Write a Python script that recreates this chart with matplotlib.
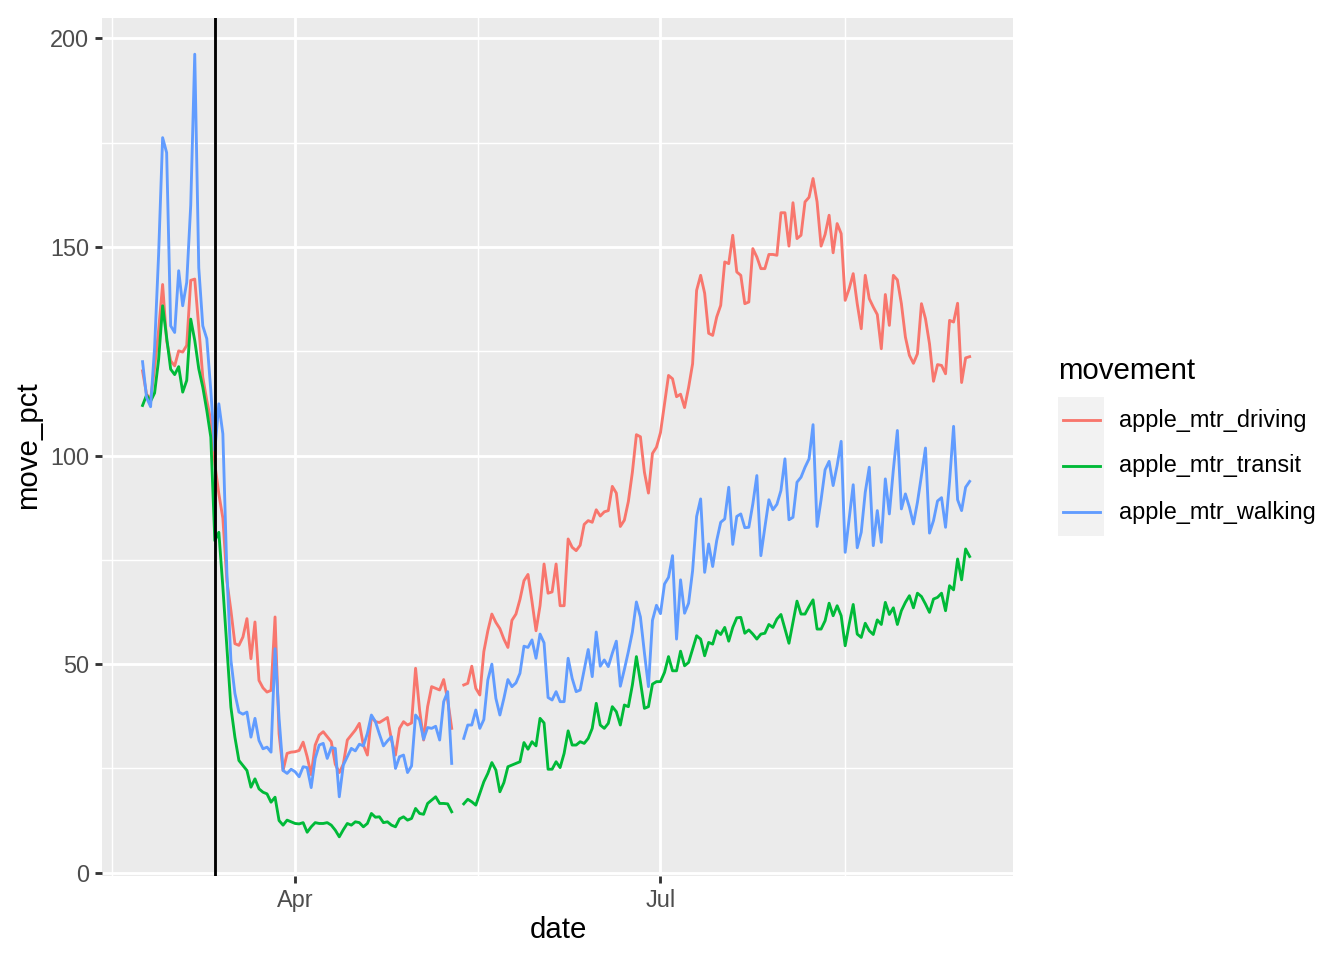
import numpy as np
import pandas as pd
import matplotlib
matplotlib.use("Agg")
import matplotlib.pyplot as plt
import matplotlib.dates as mdates
from matplotlib.lines import Line2D
from matplotlib.patches import Rectangle

plt.rcParams["font.family"] = ["Liberation Sans", "DejaVu Sans"]

# daily Apple mobility index, 2020-02-23 .. 2020-09-16 (May 11-12 missing)
dates = pd.date_range("2020-02-23", "2020-09-16", freq="D")
nan = np.nan

driving = [
    120.3, 114.7, 113.5, 121, 130, 141, 127.5, 122.7, 121.5, 125.1,
    124.8, 126.4, 142, 142.3, 130.8, 118.8, 113.2, 108.4, 98, 90.8,
    85, 70, 62.9, 54.9, 54.5, 56.5, 60.9, 51.3, 60.1, 46.1,
    44.3, 43.3, 43.7, 61.3, 33.3, 24.5, 28.6, 28.9, 29.0, 29.3,
    31.3, 27.8, 23.5, 30.6, 33, 33.8, 32.6, 31.4, 26, 24,
    26, 31.8, 33, 34.2, 35.8, 30.6, 28.2, 37.4, 36.2, 36,
    36.6, 37.2, 31.8, 28.2, 34.6, 36.2, 35.4, 35.9, 49, 39,
    31.8, 39.8, 44.6, 44.2, 43.8, 46.3, 41.4, 34.6, nan, nan,
    45, 45.4, 49.5, 44.2, 42.6, 53, 58, 62, 60, 58.5,
    56, 54, 60.5, 62, 65.5, 70, 71.5, 65, 58, 64,
    74, 67, 67.3, 74, 64, 64, 80, 78, 77.2, 78.5,
    83.5, 84.4, 84, 87, 85.5, 86.5, 86.8, 92.6, 91, 83,
    84.5, 89, 96, 105, 104.5, 96, 91, 100.5, 102, 105.5,
    112.3, 119.2, 118.4, 114.1, 114.7, 111.5, 116.3, 122, 139.6, 143.2,
    138.9, 129.3, 128.8, 133.2, 136, 146.4, 146, 152.8, 144, 143.2,
    136.4, 136.8, 149.6, 147.6, 144.8, 144.8, 148.2, 148.2, 148, 158.2,
    158.2, 150.2, 160.6, 152, 152.8, 160.8, 161.9, 166.4, 160.8, 150.2,
    153, 157.6, 148.6, 155.6, 153.2, 137.2, 140, 143.6, 136.4, 130.4,
    143.2, 137.6, 135.6, 133.8, 125.6, 138.6, 131.2, 143.2, 142.1, 136.4,
    128.4, 124, 122.1, 124.4, 136.4, 132.8, 126.8, 117.8, 121.8, 121.6,
    119.6, 132.4, 132, 136.5, 117.5, 123.4, 123.7,
]

transit = [
    112, 114.5, 113, 115, 123, 135.9, 128.3, 120.7, 119.4, 121.3,
    115.2, 118, 132.7, 127.6, 120.8, 116.4, 110.8, 104.4, 79.6, 81.6,
    68.5, 54, 39.7, 32.5, 26.9, 25.7, 24.5, 20.5, 22.5, 20.1,
    19.3, 18.9, 16.9, 18.1, 12.5, 11.4, 12.6, 12.2, 11.8, 11.7,
    12, 9.7, 11, 12, 11.8, 11.8, 12, 11.4, 10.2, 8.6,
    10.3, 11.8, 11.4, 12.2, 12, 11, 11.8, 14.2, 13.3, 13.4,
    12, 12.2, 11.4, 11, 12.9, 13.4, 12.6, 13, 15.4, 14.2,
    14, 16.6, 17.4, 18.2, 16.6, 16.6, 16.5, 14.6, nan, nan,
    16.5, 17.6, 17, 16.2, 19, 21.8, 23.8, 26.4, 24.6, 19.4,
    21.6, 25.4, 25.8, 26.2, 26.6, 31.2, 29.6, 31.4, 30.4, 37,
    35.9, 24.8, 24.8, 26.6, 25.2, 28.6, 34, 30.6, 30.6, 31.4,
    31, 32.2, 34.6, 40.6, 35.4, 34.6, 35.8, 39.8, 38.6, 35.4,
    40.2, 39.8, 45, 51.8, 45.8, 39.4, 39.8, 45.2, 45.8, 45.8,
    48, 51.8, 48.4, 48.4, 53.1, 49.6, 50.4, 53.6, 56.8, 56,
    52, 55.2, 54.8, 58, 57.1, 58.8, 55.5, 58.8, 61.1, 61.2,
    57.4, 58.2, 57.2, 56, 57.2, 57.4, 59.5, 58.8, 60.8, 61.9,
    58.4, 55, 60, 65.1, 62, 62, 63.8, 65.4, 58.4, 58.4,
    60.4, 64.6, 61.6, 64, 61.6, 54.4, 59.6, 64.3, 57.2, 56.4,
    59.8, 58, 57.1, 60.6, 59.5, 64.8, 61.9, 63.5, 59.5, 62.8,
    64.8, 66.4, 63.5, 67, 66.2, 64.4, 62.4, 65.6, 66, 67,
    62.8, 68.8, 67.8, 75.2, 70.2, 77.6, 75.8,
]

walking = [
    122.5, 113.9, 111.7, 125.9, 148.2, 176.2, 172.6, 131.1, 129.5, 144.3,
    135.9, 141.5, 160, 196.2, 145, 131.1, 128, 115.6, 101.2, 112.4,
    105.2, 72, 51, 43, 38.5, 38, 38.5, 32.5, 37, 31.7,
    29.7, 30.1, 28.9, 53.7, 37, 24.5, 23.8, 24.8, 24.2, 23,
    25.4, 25.2, 20.4, 27.4, 30.6, 31, 27.4, 30, 29.8, 18.2,
    25.8, 27.8, 29.8, 29.2, 30.8, 30.4, 33.4, 37.8, 36.2, 33.2,
    30.4, 31.6, 32.6, 25, 27.8, 28.2, 24, 25.6, 37.8, 36.6,
    32, 34.8, 34.6, 35.1, 31.8, 41, 43.4, 26.2, nan, nan,
    32.2, 35.4, 35.4, 39, 34.6, 36.7, 46.2, 50, 41.8, 37.8,
    41.8, 46.3, 44.6, 45.5, 47.8, 54.3, 54, 55.8, 51.4, 57.2,
    55.1, 42, 41.4, 43.4, 41, 41, 51.4, 46.6, 43.4, 43.8,
    48.6, 53.5, 47, 57.7, 49.5, 51, 49.4, 52.6, 55.5, 44.7,
    48.7, 53, 57.7, 64.9, 61.3, 52.7, 44.6, 60.5, 64.1, 62.1,
    69.2, 70.8, 76, 56, 70.2, 62.2, 64.6, 72.4, 85.4, 89.6,
    72, 78.8, 73.4, 79.6, 84, 84.8, 92.4, 78.7, 85.4, 86,
    82.7, 82.8, 88.4, 95.2, 76, 82.8, 89.4, 87, 88.3, 91.6,
    99.2, 84.6, 85.2, 93.6, 94.8, 97.2, 99.2, 107.4, 83, 89.4,
    96.6, 98.6, 92.8, 97.6, 103.4, 76.8, 84.8, 93, 77.9, 81.6,
    91.2, 97.2, 78.4, 86.8, 79.2, 94.4, 86, 96.6, 106, 87.2,
    90.8, 87.6, 83.6, 88.8, 95.2, 101.8, 81.4, 84.4, 89.1, 89.9,
    82.8, 93.8, 107, 89.4, 86.8, 92.4, 93.8,
]

movements = ["apple_mtr_driving", "apple_mtr_transit", "apple_mtr_walking"]
colors = ["#F8766D", "#00BA38", "#619CFF"]
series = [driving, transit, walking]
vline_date = pd.Timestamp("2020-03-12")

W, H = 1344, 960
fig = plt.figure(figsize=(7, 5), dpi=192)
ax = fig.add_axes([102 / W, 1 - 875.5 / H, 911 / W, 858 / H])
ax.set_facecolor("#EBEBEB")
for s in ax.spines.values():
    s.set_visible(False)

for name, col, vals in zip(movements, colors, series):
    ax.plot(dates, vals, color=col, lw=1.07, label=name, zorder=3)
ax.axvline(vline_date, color="black", lw=1.07, zorder=4)

start = dates[0]
ax.set_xlim(start - pd.Timedelta(days=10.1), start + pd.Timedelta(days=216.8))
ax.set_ylim(-0.67, 205.0)

ax.xaxis.set_major_locator(mdates.MonthLocator(bymonth=[1, 4, 7, 10]))
ax.xaxis.set_major_formatter(mdates.DateFormatter("%b"))
minor_x = [pd.Timestamp("2020-02-15 12:00"), pd.Timestamp("2020-05-16 12:00"),
           pd.Timestamp("2020-08-16")]
ax.set_xticks(minor_x, minor=True)
ax.set_yticks([0, 50, 100, 150, 200])
ax.set_yticks([25, 75, 125, 175], minor=True)

ax.grid(which="major", color="white", lw=1.07, zorder=1)
ax.grid(which="minor", color="white", lw=0.53, zorder=1)
ax.set_axisbelow(True)
ax.tick_params(which="major", length=2.75, width=1.07, color="#333333",
               labelsize=8.8, labelcolor="#4D4D4D", pad=2.2)
ax.tick_params(which="minor", length=0)

fig.text(558 / W, 1 - 930 / H, "date", ha="center", va="center", fontsize=11)
fig.text(28 / W, 1 - 445 / H, "move_pct", ha="center", va="center",
         rotation=90, fontsize=11)

# legend
fig.text(1058 / W, 1 - 371 / H, "movement", ha="left", va="center", fontsize=11)
fig.patches.append(Rectangle((1058 / W, 1 - 536 / H), 46 / W, 139 / H,
                             transform=fig.transFigure, facecolor="#F2F2F2",
                             edgecolor="none"))
for i, (name, col) in enumerate(zip(movements, colors)):
    yc = 1 - (420 + 46 * i) / H
    fig.lines.append(Line2D([1063 / W, 1100 / W], [yc, yc], color=col, lw=1.07,
                            transform=fig.transFigure))
    fig.text(1119 / W, yc, name, ha="left", va="center", fontsize=8.8)

fig.savefig("out.png", dpi=192)
